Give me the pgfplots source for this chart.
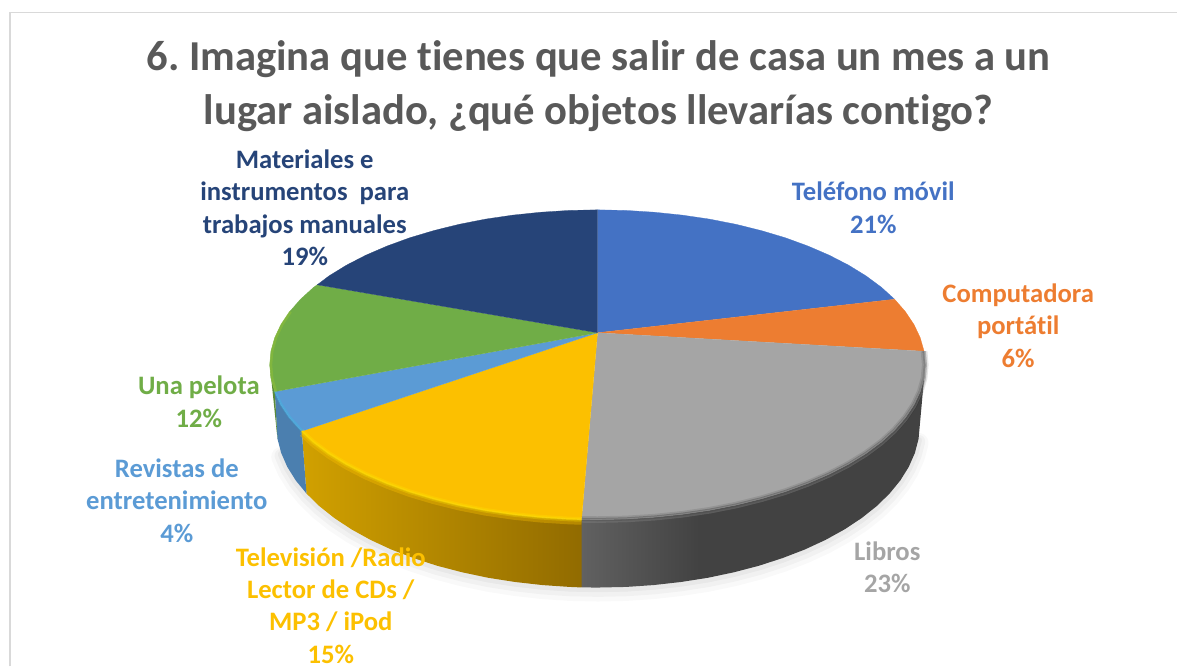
\documentclass[border=0pt]{standalone}
\usepackage{pgfplots}
\usepackage{pgfplotstable}
\usepackage{fontspec}
\setmainfont{Carlito}[Ligatures=NoCommon]
\pgfplotsset{compat=1.18}
\frenchspacing

\definecolor{cblue}{HTML}{4472C4}
\definecolor{corange}{HTML}{ED7D31}
\definecolor{cgray}{HTML}{A5A5A5}
\definecolor{cyellow}{HTML}{FCC000}
\definecolor{clblue}{HTML}{5B9BD5}
\definecolor{cgreen}{HTML}{70AD47}
\definecolor{cnavy}{HTML}{264478}
\definecolor{ctitle}{HTML}{595959}

\pgfdeclarehorizontalshading{grayside}{100bp}{
  rgb(0bp)=(0.38,0.38,0.38); rgb(25bp)=(0.38,0.38,0.38);
  rgb(42bp)=(0.26,0.26,0.26); rgb(100bp)=(0.26,0.26,0.26)}
\pgfdeclarehorizontalshading{yellowside}{100bp}{
  rgb(0bp)=(0.82,0.63,0.0); rgb(25bp)=(0.82,0.63,0.0);
  rgb(75bp)=(0.57,0.42,0.0); rgb(100bp)=(0.57,0.42,0.0)}

\tikzset{
  slice/.style={fill=#1, draw=#1, line width=0.2pt},
  lab/.style={font=\bfseries\fontsize{20pt}{24.3pt}\selectfont, align=center, text=#1, inner sep=0pt},
}

% outline of the pie in picture pixels, y downwards
\pgfplotstableread{
x y
924.8 351.5
926.0 365.0
924.8 378.5
921.0 391.9
914.8 405.1
906.2 418.0
895.3 430.5
882.1 442.5
866.7 453.9
849.3 464.6
829.9 474.6
808.8 483.7
786.1 492.0
762.0 499.2
736.6 505.5
710.2 510.7
682.9 514.7
654.9 517.6
626.6 519.4
598.0 520.0
582.0 519.8
}\arcgray
\pgfplotstableread{
x y
582.0 519.8
569.4 519.4
541.1 517.6
513.1 514.7
485.8 510.7
459.4 505.5
434.0 499.2
409.9 492.0
387.2 483.7
366.1 474.6
346.7 464.6
329.3 453.9
313.9 442.5
302.0 431.5
}\arcyellow
\pgfplotstableread{
x y
302.0 431.5
289.8 418.0
281.2 405.1
275.0 391.9
}\arclblue
\pgfplotstableread{
x y
275.0 391.9
271.2 378.5
270.0 365.0
271.2 351.5
275.0 338.1
281.2 324.9
289.8 312.0
}\arcgreen
\pgfplotstableread{
x y
919.3 439.2
915.6 453.3
909.5 467.2
901.1 480.7
890.3 493.9
877.4 506.5
862.3 518.5
845.2 529.8
826.2 540.3
805.5 549.9
783.2 558.5
759.5 566.2
734.6 572.7
708.6 578.2
681.8 582.4
654.4 585.5
626.6 587.4
598.5 588.0
570.4 587.4
542.6 585.5
515.2 582.4
488.4 578.2
462.4 572.7
437.5 566.2
413.8 558.5
391.5 549.9
370.8 540.3
351.8 529.8
334.7 518.5
319.6 506.5
306.7 493.9
295.9 480.7
287.5 467.2
281.4 453.3
}\arcbottom

\begin{document}
\begin{tikzpicture}
\begin{axis}[
    width=883.5pt, height=500.25pt, scale only axis,
    xmin=0, xmax=1178, ymin=0, ymax=667, y dir=reverse,
    hide axis, clip=false,
]
% keeps the page as large as the whole picture
\addplot[draw=none] coordinates {(0,0) (1178,667)};
% frame
\addplot[draw=black!15, line width=1.4pt] coordinates {(10,667) (10,12.5) (1178,12.5)};

% soft shadow under the pie
\addplot[black, opacity=0.025, line width=15pt, line cap=round, yshift=-3pt] table {\arcbottom};
\addplot[black, opacity=0.03, line width=10pt, line cap=round, yshift=-2pt] table {\arcbottom};
\addplot[black, opacity=0.04, line width=5pt, line cap=round, yshift=-1pt] table {\arcbottom};

% sides
\addplot[draw=none, shade, shading=grayside] coordinates {
  (926,365) (924.8,378.5) (921,391.9) (914.8,405.1) (906.2,418) (895.3,430.5) (882.1,442.5)
  (866.7,453.9) (849.3,464.6) (829.9,474.6) (808.8,483.7) (786.1,492) (762,499.2) (736.6,505.5)
  (710.2,510.7) (682.9,514.7) (654.9,517.6) (626.6,519.4) (598,520) (582,519.8)
  (582,587.9) (598.5,588) (626.6,587.4) (654.4,585.5) (681.8,582.4) (708.6,578.2) (734.6,572.7)
  (759.5,566.2) (783.2,558.5) (805.5,549.9) (826.2,540.3) (845.2,529.8) (862.3,518.5) (877.4,506.5)
  (890.3,493.9) (901.1,480.7) (909.5,467.2) (915.6,453.3) (919.3,439.2)};
\addplot[draw=none, shade, shading=yellowside] coordinates {
  (582,519.8) (569.4,519.4) (541.1,517.6) (513.1,514.7) (485.8,510.7) (459.4,505.5) (434,499.2)
  (409.9,492) (387.2,483.7) (366.1,474.6) (346.7,464.6) (329.3,453.9) (313.9,442.5) (302,431.5)
  (306.7,493.9) (319.6,506.5) (334.7,518.5) (351.8,529.8) (370.8,540.3) (391.5,549.9) (413.8,558.5)
  (437.5,566.2) (462.4,572.7) (488.4,578.2) (515.2,582.4) (542.6,585.5) (570.4,587.4) (582,587.9)};
\addplot[fill=clblue!82!black, draw=none] coordinates {
  (302,431.5) (289.8,418) (281.2,405.1) (275,391.9) (277.7,439.2) (281.4,453.3) (287.5,467.2)
  (295.9,480.7) (306.7,493.9)};
\addplot[fill=cgreen!80!black, draw=none] coordinates {
  (270,365) (271.2,378.5) (275,391.9) (277.7,439.2)};

% top faces
\addplot[slice=cblue] coordinates {
  (598,333) (598,210) (626.6,210.6) (654.9,212.4) (682.9,215.3) (710.2,219.3) (736.6,224.5)
  (762,230.8) (786.1,238) (808.8,246.3) (829.9,255.4) (849.3,265.4) (866.7,276.1) (882.1,287.5)
  (895.3,299.5)};
\addplot[slice=corange] coordinates {
  (598,333) (895.3,299.5) (906.2,312) (914.8,324.9) (921,338.1) (924.8,351.5)};
\addplot[slice=cgray] coordinates {
  (598,333) (924.8,351.5) (926,365) (924.8,378.5) (921,391.9) (914.8,405.1) (906.2,418)
  (895.3,430.5) (882.1,442.5) (866.7,453.9) (849.3,464.6) (829.9,474.6) (808.8,483.7)
  (786.1,492) (762,499.2) (736.6,505.5) (710.2,510.7) (682.9,514.7) (654.9,517.6)
  (626.6,519.4) (598,520) (582,519.8)};
\addplot[slice=cyellow] coordinates {
  (598,333) (582,519.8) (569.4,519.4) (541.1,517.6) (513.1,514.7) (485.8,510.7) (459.4,505.5)
  (434,499.2) (409.9,492) (387.2,483.7) (366.1,474.6) (346.7,464.6) (329.3,453.9) (313.9,442.5)
  (302,431.5)};
\addplot[slice=clblue] coordinates {
  (598,333) (302,431.5) (289.8,418) (281.2,405.1) (275,391.9)};
\addplot[slice=cgreen] coordinates {
  (598,333) (275,391.9) (271.2,378.5) (270,365) (271.2,351.5) (275,338.1) (281.2,324.9)
  (289.8,312) (300.7,299.5) (313.9,287.5) (317.5,285)};
\addplot[slice=cnavy] coordinates {
  (598,333) (317.5,285) (329.3,276.1) (346.7,265.4) (366.1,255.4) (387.2,246.3) (409.9,238)
  (434,230.8) (459.4,224.5) (485.8,219.3) (513.1,215.3) (541.1,212.4) (569.4,210.6) (598,210)};

% bevel along the front edge
\addplot[draw=black, opacity=0.10, line width=5pt] table {\arcgray};
\addplot[draw=black, opacity=0.22, line width=2.5pt] table {\arcgray};
\addplot[draw=cgray, opacity=0.3, line width=3pt, yshift=-1pt] table {\arcgray};
\addplot[draw=cyellow, opacity=0.35, line width=4pt, yshift=-2pt] table {\arcyellow};
\addplot[draw=yellow!70!cyellow, opacity=0.3, line width=3.5pt] table {\arcyellow};
\addplot[draw=yellow!60!cyellow, opacity=0.5, line width=1.4pt] table {\arcyellow};
\addplot[draw=clblue!70!cyan, opacity=0.4, line width=2pt, yshift=0.5pt] table {\arclblue};
\addplot[draw=cgreen!80!yellow, opacity=0.6, line width=2pt, xshift=0.8pt] table {\arcgreen};

% title and labels
\node[font=\bfseries\fontsize{32pt}{40.5pt}\selectfont, text=ctitle, align=center, inner sep=0pt]
  at (axis cs:599,86) {6. Imagina que tienes que salir de casa un mes a un\\lugar aislado, ¿qué objetos llevarías contigo?};
\node[lab=cblue] at (axis cs:874,208) {Teléfono móvil\\21\%};
\node[lab=corange] at (axis cs:1019,326) {Computadora\\portátil\\6\%};
\node[lab=cgray] at (axis cs:888,568) {Libros\\23\%};
\node[lab=cyellow] at (axis cs:331,606) {Televisión /Radio\\Lector de CDs /\\MP3 / iPod\\15\%};
\node[lab=clblue] at (axis cs:177,501) {Revistas de\\entretenimiento\\4\%};
\node[lab=cgreen] at (axis cs:199,402) {Una pelota\\12\%};
\node[lab=cnavy] at (axis cs:305,208) {Materiales e\\instrumentos~~para\\trabajos manuales\\19\%};
\end{axis}
\end{tikzpicture}
\end{document}
